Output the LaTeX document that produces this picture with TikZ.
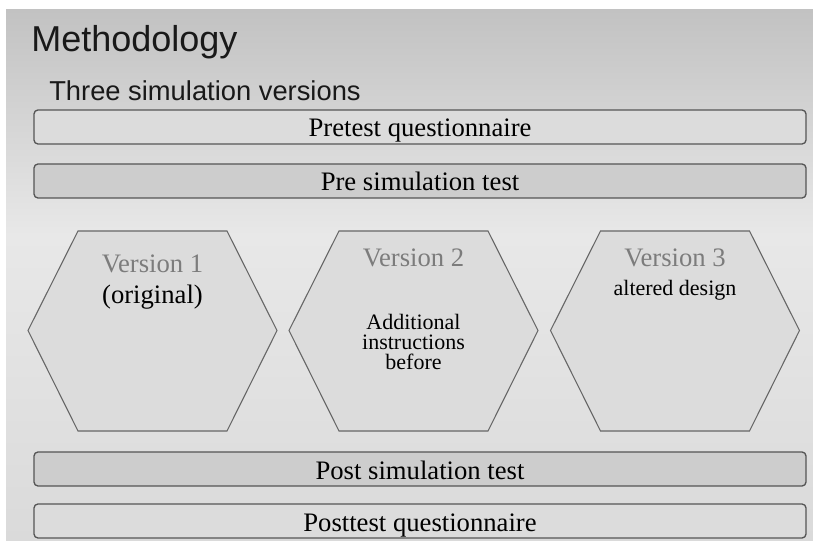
\documentclass[tikz,border=0pt]{standalone}
\usepackage{fontspec}
\setmainfont{Liberation Serif}
\setsansfont{Liberation Sans}

\definecolor{bgtop}{HTML}{C2C2C2}
\definecolor{bgmid}{HTML}{E8E8E8}
\definecolor{bgbot}{HTML}{DADADA}
\definecolor{barlight}{HTML}{DCDCDC}
\definecolor{bardark}{HTML}{CDCDCD}
\definecolor{hexfill}{HTML}{DCDCDC}
\definecolor{edgegray}{HTML}{555555}
\definecolor{hexedge}{HTML}{666666}
\definecolor{versiongray}{HTML}{7C7C7C}

\tikzset{
  bar/.style={draw=edgegray, line width=1pt, rounded corners=3pt, inner sep=0pt,
    minimum width=579pt, text height=20.25pt, text depth=5.25pt, anchor=base,
    font=\fontsize{20}{24}\selectfont},
  hexagon/.style={draw=hexedge, line width=0.8pt, fill=hexfill},
  version/.style={text=versiongray, anchor=base, inner sep=0pt, font=\fontsize{20}{24}\selectfont},
  detail/.style={anchor=base, inner sep=0pt, align=center, font=\fontsize{16.5}{15}\selectfont},
}

\begin{document}
\begin{tikzpicture}[x=0.75pt, y=-0.75pt]
    \useasboundingbox (0,0) rectangle (813,541);
    % Background (lightest around the hexagons)
    \shade[top color=bgtop, bottom color=bgmid] (6,10) rectangle (813,235);
    \shade[top color=bgmid, bottom color=bgbot] (6,235) rectangle (813,541);
    % Headings
    \node[anchor=base west, inner sep=0pt, text=black!90, font=\sffamily\fontsize{27}{32}\selectfont] (title) at (31,52) {Methodology};
    \node[anchor=base west, inner sep=0pt, text=black!90, font=\sffamily\fontsize{20.5}{24}\selectfont] (subtitle) at (49,101) {Three simulation versions};
    % Bars before the simulation
    \node[bar, fill=barlight] (pretest) at (420,137) {Pretest questionnaire};
    \node[bar, fill=bardark] (presim) at (420,191) {Pre simulation test};
    % The three versions
    \foreach \cx in {152.5,413.5,675}
        \draw[hexagon] (\cx-74.5,231) -- (\cx+74.5,231) -- (\cx+124.5,330.5)
            -- (\cx+74.5,431) -- (\cx-74.5,431) -- (\cx-124.5,330.5) -- cycle;
    \node[version] (v1) at (152.5,273) {Version 1};
    \node[detail, font=\fontsize{20}{24}\selectfont] (v1note) at (152.5,304) {(original)};
    \node[version] (v2) at (413.5,267) {Version 2};
    \node[detail] (v2note) at (413.5,369) {Additional\\instructions\\before};
    \node[version] (v3) at (675,267) {Version 3};
    \node[detail] (v3note) at (675,296) {altered design};
    % Bars after the simulation
    \node[bar, fill=bardark] (postsim) at (420,479) {Post simulation test};
    \node[bar, fill=barlight] (posttest) at (420,531) {Posttest questionnaire};
\end{tikzpicture}
\end{document}
